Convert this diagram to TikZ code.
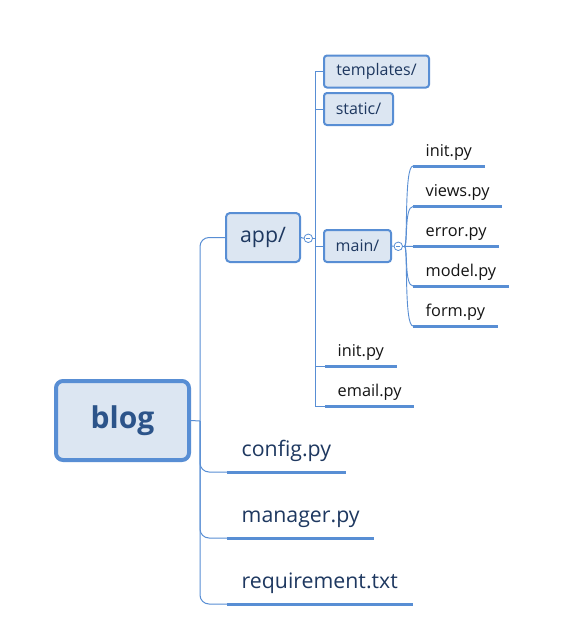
\documentclass[tikz,border=0pt]{standalone}
\usepackage{fontspec}
\setmainfont{Open Sans}
\usetikzlibrary{calc}
\definecolor{lcol}{RGB}{88,142,212}
\definecolor{bfill}{RGB}{220,230,242}
\definecolor{navy}{RGB}{30,56,96}
\definecolor{blogtxt}{RGB}{44,84,138}
\definecolor{leafblack}{RGB}{20,20,20}
\tikzset{
  conn/.style={draw=lcol, line width=1pt},
  uline/.style={draw=lcol, line width=3pt},
  rootbox/.style={draw=lcol, fill=bfill, line width=4pt, rounded corners=7pt, inner sep=0pt,
    minimum width=133pt, minimum height=79pt, font=\fontsize{30}{36}\selectfont\bfseries, text=blogtxt},
  dirbig/.style={draw=lcol, fill=bfill, line width=2pt, rounded corners=4pt, inner sep=0pt,
    minimum width=74pt, minimum height=49pt, font=\fontsize{21.3}{26}\selectfont, text=navy},
  dirsmall/.style={draw=lcol, fill=bfill, line width=2pt, rounded corners=3pt, inner sep=0pt,
    minimum height=32pt, font=\fontsize{16}{19}\selectfont, text=navy},
  bigleaf/.style={inner xsep=14.5pt, inner ysep=0pt, text depth=15.5pt, anchor=south west,
    font=\fontsize{21.3}{26}\selectfont, text=navy},
  smallleaf/.style={inner xsep=12.5pt, inner ysep=0pt, text depth=9.5pt, anchor=south west,
    font=\fontsize{16.3}{19}\selectfont, text=leafblack},
  toggle/.style={circle, draw=lcol, fill=white, line width=0.8pt, minimum size=8.5pt, inner sep=0pt,
    path picture={\draw[lcol, line width=0.8pt] ([xshift=-2pt]path picture bounding box.center) -- ([xshift=2pt]path picture bounding box.center);}}
}
\begin{document}
\begin{tikzpicture}[x=1pt, y=-1pt]
\useasboundingbox[fill=white] (0,0) rectangle (576,633);

% root
\node[rootbox] (blog) at (122.5,420.5) {blog};

% level 1
\node[dirbig] (app) at (263,237.5) {app/};
\node[bigleaf] (cfg) at (227,472) {config.py};
\node[bigleaf] (mgr) at (227,538) {manager.py};
\node[bigleaf] (req) at (227,604) {requirement.txt};

% main trunk
\coordinate (tr) at (200,421);
\draw[conn] (blog.east) -- (tr);
\draw[conn, rounded corners=9pt] (app.west) -| (tr) |- (req.south west);
\draw[conn, rounded corners=9pt] (tr) |- (cfg.south west);
\draw[conn, rounded corners=9pt] (tr) |- (mgr.south west);
\draw[uline] (cfg.south west) -- (cfg.south east);
\draw[uline] (mgr.south west) -- (mgr.south east);
\draw[uline] (req.south west) -- (req.south east);

% app children
\node[toggle] (appt) at (308.3,238.3) {};
\draw[conn] (app.east) -- (appt.west);
\node[dirsmall, minimum width=105pt] (tpl) at (376.5,71.5) {templates/};
\node[dirsmall, minimum width=69pt] (sta) at (358.5,109) {static/};
\node[dirsmall, minimum width=67pt] (mai) at (357.5,246) {main/};
\node[smallleaf] (ainit) at (325,366) {init.py};
\node[smallleaf] (aemail) at (325,406) {email.py};
\coordinate (at) at (315,238.3);
\draw[conn] (appt.east) -- (at);
\draw[conn] (tpl.west) -| (at) |- (aemail.south west);
\draw[conn] (at) |- (sta.west);
\draw[conn] (at) |- (mai.west);
\draw[conn] (at) |- (ainit.south west);
\draw[uline] (ainit.south west) -- (ainit.south east);
\draw[uline] (aemail.south west) -- (aemail.south east);

% main children
\node[toggle] (mait) at (398.3,246.3) {};
\draw[conn] (mai.east) -- (mait.west);
\coordinate (mh) at (404.5,246.3);
\draw[conn] (mait.east) -- (mh);
\node[smallleaf] (minit) at (413,166) {init.py};
\node[smallleaf] (mviews) at (413,206.5) {views.py};
\node[smallleaf] (merror) at (413,246.5) {error.py};
\node[smallleaf] (mmodel) at (413,286) {model.py};
\node[smallleaf] (mform) at (413,326) {form.py};
\foreach \n in {minit,mviews,mmodel,mform}{
  \draw[conn, line width=0.9pt] (mh) .. controls ($(mh)+(3.5,0)$) and ($(\n.south west)+(-9,0)$) .. (\n.south west);
  \draw[uline] (\n.south west) -- (\n.south east);
}
\draw[conn] (mh) -- (merror.south west);
\draw[uline] (merror.south west) -- (merror.south east);
\end{tikzpicture}
\end{document}
